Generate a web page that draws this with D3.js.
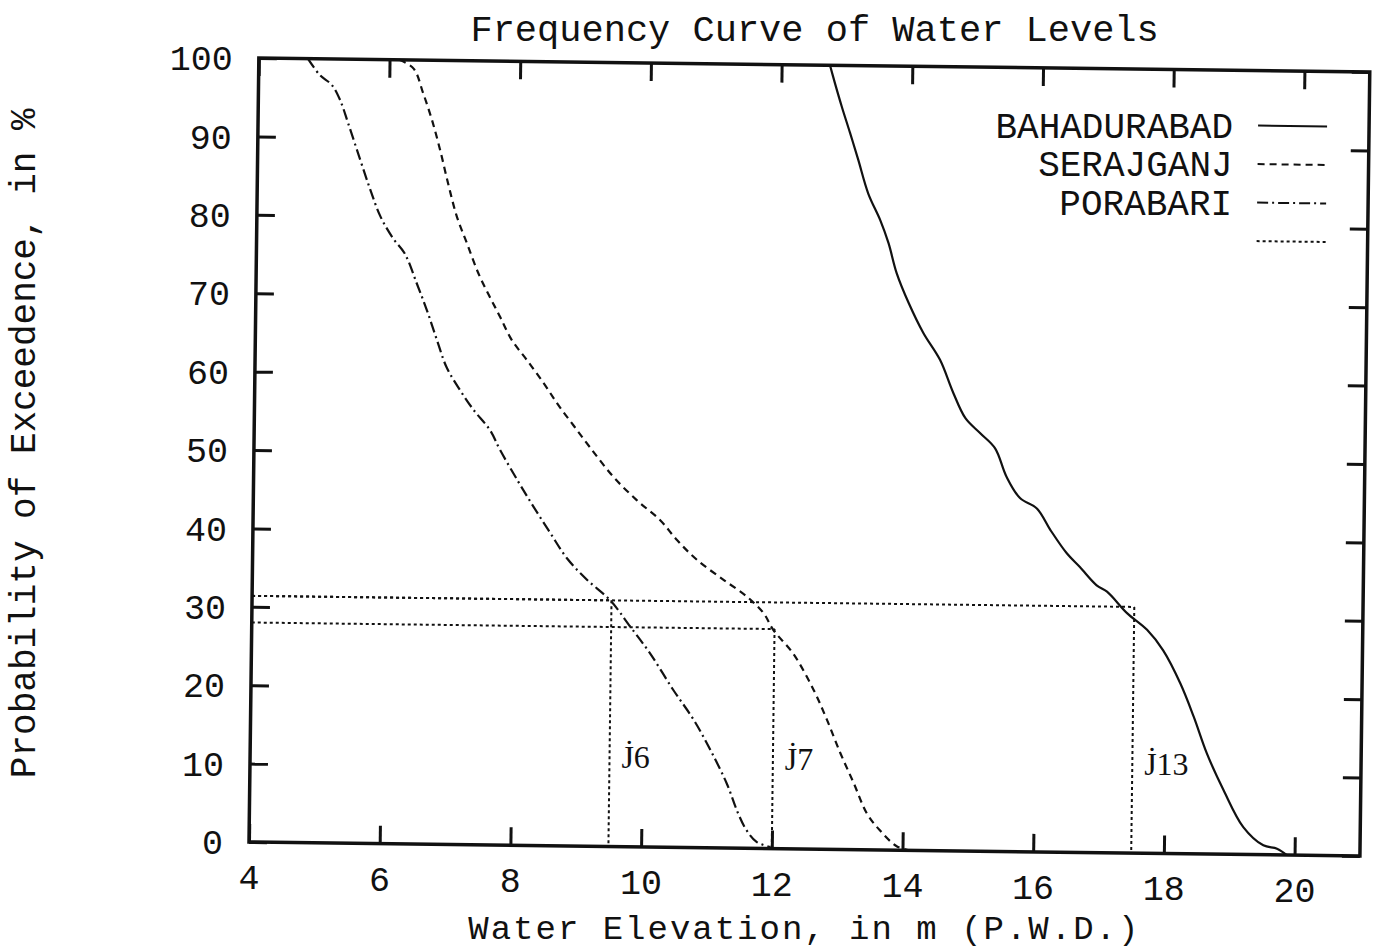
<!DOCTYPE html>
<html>
<head>
<meta charset="utf-8">
<script src="https://cdn.jsdelivr.net/npm/d3@7/dist/d3.min.js"></script>
<style>
  html, body { margin: 0; padding: 0; background: #fff; }
  svg { display: block; }
  text { font-family: "Liberation Mono", "DejaVu Sans Mono", monospace; fill: #111; }
</style>
</head>
<body>
<svg id="chart" width="1374" height="952"></svg>
<script>
// ---------------- data ----------------
const chartTitle = "Frequency Curve of Water Levels";
const xTitle = "Water Elevation, in m (P.W.D.)";
const yTitle = "Probability of Exceedence, in %";

const xTicks = [4, 6, 8, 10, 12, 14, 16, 18, 20];
const yTicks = [0, 10, 20, 30, 40, 50, 60, 70, 80, 90, 100];

const seriesNames = ["BAHADURABAD", "SERAJGANJ", "PORABARI", ""];

// water elevation (m) for each station, paired with probability of exceedence (%)
const bahadurabadX = [12.74,12.82,12.93,13.06,13.19,13.35,13.54,13.67,13.80,13.99,14.22,14.48,14.69,14.88,15.11,15.34,15.52,15.73,15.99,16.20,16.46,16.66,16.92,17.08,17.39,17.70,17.95,18.22,18.43,18.64,18.90,19.21,19.52,19.73,19.88];
const bahadurabadY = [100,97.7,94.7,91.4,88.0,83.7,80.3,77.4,73.6,69.8,66.0,62.6,58.4,55.2,53.3,51.4,47.8,45.1,43.8,41.1,38.1,36.4,34.1,33.3,30.6,28.5,25.9,21.7,17.5,12.8,8.2,3.5,1.2,0.8,0];

const serajganjX = [6.15,6.37,6.52,6.66,6.79,6.92,7.06,7.22,7.40,7.58,7.74,7.92,8.16,8.42,8.65,8.88,9.14,9.50,9.87,10.23,10.49,10.80,11.21,11.57,11.83,11.98,12.29,12.61,12.82,13.03,13.24,13.45,13.65,13.91,14.10];
const serajganjY = [100,98.9,95.8,92.4,88.6,84.3,80.1,76.7,72.9,69.9,67.4,64.5,61.9,59.0,56.2,53.7,50.9,47.2,44.2,41.7,39.2,36.7,34.2,32.1,30.0,27.9,24.9,20.3,16.5,12.3,8.5,4.6,2.5,0.5,0];

const porabariX = [4.75,4.94,5.12,5.25,5.38,5.57,5.73,5.89,6.09,6.27,6.46,6.62,6.78,6.93,7.14,7.35,7.61,7.76,8.05,8.29,8.55,8.81,9.12,9.48,9.79,10.10,10.46,10.78,11.04,11.30,11.48,11.61,11.77,11.98];
const porabariY = [100,97.9,96.7,94.8,91.8,87.2,83.4,80.0,77.2,75.3,71.5,68.1,64.3,60.9,58.0,55.5,52.9,50.5,46.4,43.2,39.9,36.7,34.0,31.4,28.1,24.7,20.1,16.3,12.5,8.2,4.4,2.3,0.8,0.2];

// read-off construction lines at the junctions
const junctionLabels = ["J\u03076", "J\u03077", "J\u030713"];
const junctionX = [9.5, 12.0, 17.5];
const junctionY = [31.4, 28.0, 31.4];
const junctionLabelY = [10, 10, 10];

// ---------------- layout ----------------
const svg = d3.select("#chart");
const plotLeft = 249, plotRight = 1360, plotTop = 58, plotBottom = 842;
const tilt = 0.72; // the scanned page is slightly rotated

const x = d3.scaleLinear().domain([4, 21]).range([plotLeft, plotRight]);
const y = d3.scaleLinear().domain([0, 100]).range([plotBottom, plotTop]);

const g = svg.append("g").attr("transform", `rotate(${tilt},${plotLeft},${plotBottom})`);

// ---------------- axes ----------------
const tickLen = 18;
function styleAxis(sel) {
  sel.select(".domain").remove();
  sel.selectAll(".tick line").attr("stroke", "#111").attr("stroke-width", 3);
}

const axB = g.append("g").attr("transform", `translate(0,${plotBottom})`)
  .call(d3.axisBottom(x).tickValues(xTicks).tickSize(-tickLen).tickFormat(d3.format("d")));
styleAxis(axB);
axB.selectAll(".tick text").attr("x", 0).attr("y", 47).attr("dy", 0)
  .style("font-size", "35px").style("font-family", "Liberation Mono").attr("fill", "#111");

const axT = g.append("g").attr("transform", `translate(0,${plotTop})`)
  .call(d3.axisTop(x).tickValues(xTicks).tickSize(-tickLen).tickFormat(""));
styleAxis(axT);

const axL = g.append("g").attr("transform", `translate(${plotLeft},0)`)
  .call(d3.axisLeft(y).tickValues(yTicks).tickSize(-tickLen).tickFormat(d3.format("d")));
styleAxis(axL);
axL.selectAll(".tick text").attr("x", -26).attr("y", 0).attr("dy", "0.34em")
  .style("font-size", "35px").style("font-family", "Liberation Mono").attr("fill", "#111");

const axR = g.append("g").attr("transform", `translate(${plotRight},0)`)
  .call(d3.axisRight(y).tickValues(yTicks).tickSize(-tickLen).tickFormat(""));
styleAxis(axR);

// frame
g.append("rect")
  .attr("x", x(4)).attr("y", y(100))
  .attr("width", x(21) - x(4)).attr("height", y(0) - y(100))
  .attr("fill", "none").attr("stroke", "#111").attr("stroke-width", 3.5);

// ---------------- reference (dotted) lines ----------------
const dotted = "3,3";
junctionX.forEach((jx, i) => {
  g.append("line")
    .attr("x1", x(4)).attr("x2", x(jx))
    .attr("y1", y(junctionY[i])).attr("y2", y(junctionY[i]))
    .attr("stroke", "#111").attr("stroke-width", 2).attr("stroke-dasharray", dotted);
  g.append("line")
    .attr("x1", x(jx)).attr("x2", x(jx))
    .attr("y1", y(junctionY[i])).attr("y2", y(0))
    .attr("stroke", "#111").attr("stroke-width", 2).attr("stroke-dasharray", dotted);
  g.append("text")
    .attr("x", x(jx) + 12).attr("y", y(junctionLabelY[i]))
    .style("font-family", "Liberation Serif").style("font-size", "32px")
    .attr("fill", "#111")
    .text(junctionLabels[i]);
});

// ---------------- curves ----------------
const series = [
  { xs: bahadurabadX, ys: bahadurabadY, dash: null },
  { xs: serajganjX, ys: serajganjY, dash: "7,5" },
  { xs: porabariX, ys: porabariY, dash: "11,4,2,4" }
];
const line = d3.line().x(d => x(d[0])).y(d => y(d[1])).curve(d3.curveCatmullRom.alpha(0.5));
series.forEach(s => {
  const pts = s.xs.map((v, i) => [v, s.ys[i]]);
  g.append("path").attr("d", line(pts))
    .attr("fill", "none").attr("stroke", "#111").attr("stroke-width", 2.2)
    .attr("stroke-dasharray", s.dash);
});

// ---------------- legend ----------------
const legendDash = [null, "7,5", "11,4,2,4", dotted];
const legTextRight = 1224, legLineX1 = 1249, legLineX2 = 1318, legY0 = 113, legStep = 38.5;
seriesNames.forEach((name, i) => {
  const ly = legY0 + i * legStep;
  g.append("text").attr("x", legTextRight).attr("y", ly).attr("dy", "0.35em")
    .attr("text-anchor", "end").style("font-size", "36px").text(name);
  g.append("line").attr("x1", legLineX1).attr("x2", legLineX2).attr("y1", ly).attr("y2", ly)
    .attr("stroke", "#111").attr("stroke-width", 2).attr("stroke-dasharray", legendDash[i]);
});

// ---------------- titles ----------------
g.append("text").attr("x", (plotLeft + plotRight) / 2).attr("y", 34)
  .attr("text-anchor", "middle").style("font-size", "37px").text(chartTitle);

g.append("text").attr("x", (plotLeft + plotRight) / 2 + 1).attr("y", 932)
  .attr("text-anchor", "middle").style("font-size", "34px")
  .style("letter-spacing", "2px").text(xTitle);

// keep texts level: undo the page tilt around each text's own anchor
g.selectAll("text").each(function () {
  const t = d3.select(this);
  const ax = +t.attr("x") || 0, ay = +t.attr("y") || 0;
  t.attr("transform", `rotate(${-tilt},${ax},${ay})`);
});

g.append("text").attr("transform", `translate(30,446) rotate(${-90 - tilt})`)
  .attr("text-anchor", "middle").style("font-size", "36px").text(yTitle);
</script>
</body>
</html>
